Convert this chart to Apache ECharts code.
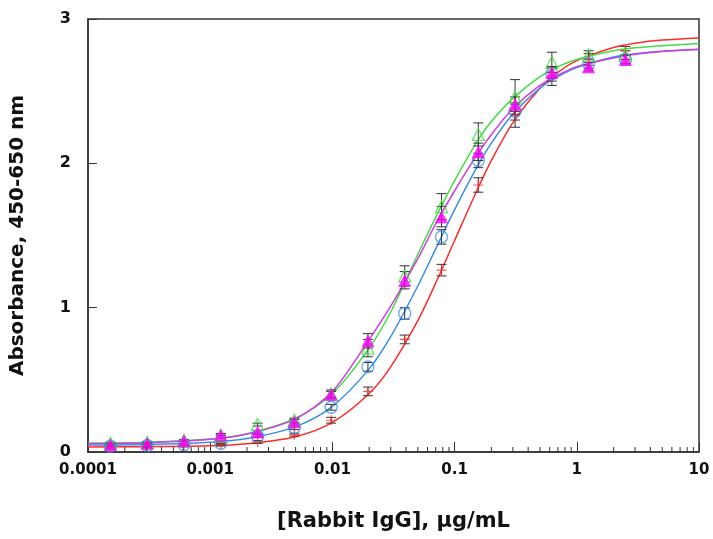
<!DOCTYPE html>
<html>
<head>
<meta charset="utf-8">
<script src="https://cdn.jsdelivr.net/npm/echarts@6/dist/echarts.min.js"></script>
<style>html,body{margin:0;padding:0;background:#fff}#c{width:713px;height:539px}</style>
</head>
<body>
<div id="c"></div>
<script>
// ---- data ----
const conc = [0.000152588, 0.000305176, 0.000610352, 0.00122070, 0.00244141, 0.00488281, 0.00976563, 0.0195313, 0.0390625, 0.078125, 0.15625, 0.3125, 0.625, 1.25, 2.5];

const redY     = [0.03, 0.035, 0.04, 0.05, 0.07, 0.12, 0.22, 0.42, 0.78, 1.26, 1.85, 2.33, 2.60, 2.72, 2.78];
const redSd    = [0.005, 0.005, 0.005, 0.008, 0.01, 0.01, 0.02, 0.03, 0.03, 0.04, 0.05, 0.08, 0.06, 0.04, 0.03];
const blueY    = [0.04, 0.045, 0.05, 0.06, 0.11, 0.17, 0.31, 0.59, 0.96, 1.49, 2.02, 2.36, 2.62, 2.69, 2.72];
const blueSd   = [0.005, 0.005, 0.006, 0.008, 0.01, 0.015, 0.02, 0.03, 0.04, 0.05, 0.05, 0.06, 0.05, 0.03, 0.03];
const greenY   = [0.06, 0.065, 0.08, 0.11, 0.19, 0.22, 0.40, 0.72, 1.22, 1.70, 2.20, 2.46, 2.70, 2.75, 2.75];
const greenSd  = [0.005, 0.005, 0.006, 0.008, 0.01, 0.015, 0.03, 0.06, 0.07, 0.09, 0.08, 0.12, 0.07, 0.03, 0.03];
const magY     = [0.05, 0.06, 0.08, 0.12, 0.14, 0.21, 0.40, 0.77, 1.19, 1.63, 2.08, 2.41, 2.63, 2.67, 2.72];
const magSd    = [0.005, 0.005, 0.006, 0.008, 0.01, 0.015, 0.02, 0.05, 0.06, 0.07, 0.06, 0.05, 0.04, 0.03, 0.03];

// fitted curves
const fitX     = [0.0001, 0.0003, 0.001, 0.002, 0.005, 0.01, 0.02, 0.03, 0.05, 0.07, 0.1, 0.15, 0.2, 0.3, 0.5, 0.7, 1, 2, 3, 5, 10];
const redFit   = [0.035, 0.037, 0.043, 0.057, 0.106, 0.205, 0.405, 0.590, 0.910, 1.170, 1.465, 1.800, 2.020, 2.282, 2.520, 2.630, 2.712, 2.803, 2.832, 2.854, 2.869];
const blueFit  = [0.048, 0.052, 0.068, 0.093, 0.176, 0.316, 0.576, 0.799, 1.150, 1.407, 1.679, 1.964, 2.140, 2.341, 2.521, 2.601, 2.664, 2.736, 2.759, 2.777, 2.789];
const greenFit = [0.062, 0.068, 0.090, 0.125, 0.234, 0.405, 0.720, 0.970, 1.370, 1.625, 1.880, 2.140, 2.290, 2.450, 2.600, 2.670, 2.720, 2.780, 2.800, 2.815, 2.830];
const magFit   = [0.058, 0.064, 0.088, 0.125, 0.230, 0.420, 0.780, 1.010, 1.340, 1.580, 1.810, 2.050, 2.200, 2.380, 2.540, 2.610, 2.670, 2.730, 2.755, 2.775, 2.790];

const xTickLabels = ['0.0001', '0.001', '0.01', '0.1', '1', '10'];
const yTickLabels = ['0', '1', '2', '3'];
const decades = [0.0001, 0.001, 0.01, 0.1, 1];
const minorMult = [2, 3, 4, 5, 6, 7, 8, 9];

// ---- build ----
const pairs = (xs, ys) => xs.map((x, i) => [x, ys[i]]);
const errs = (xs, ys, sd) => xs.map((x, i) => [x, ys[i] - sd[i], ys[i] + sd[i]]);
const minorTicks = [];
decades.forEach(d => minorMult.forEach(m => minorTicks.push([d * m, 0])));

const C = { red: '#ff2a2a', blue: '#3a8ee8', green: '#44dd44', mag: '#d43be6', magMark: '#ff00ff' };
const font = '"DejaVu Sans", Verdana, sans-serif';

function errRender(params, api) {
  const x = api.value(0);
  const p1 = api.coord([x, api.value(1)]);
  const p2 = api.coord([x, api.value(2)]);
  const w = 5;
  const st = { stroke: '#333', lineWidth: 1 };
  return { type: 'group', children: [
    { type: 'line', shape: { x1: p1[0], y1: p1[1], x2: p2[0], y2: p2[1] }, style: st },
    { type: 'line', shape: { x1: p1[0] - w, y1: p1[1], x2: p1[0] + w, y2: p1[1] }, style: st },
    { type: 'line', shape: { x1: p2[0] - w, y1: p2[1], x2: p2[0] + w, y2: p2[1] }, style: st }
  ]};
}
function minorRender(params, api) {
  const p = api.coord([api.value(0), api.value(1)]);
  return { type: 'line', shape: { x1: p[0], y1: p[1], x2: p[0], y2: p[1] - 5 }, style: { stroke: '#333', lineWidth: 1 } };
}
const lineS = (data, color) => ({ type: 'line', data, smooth: 0.3, showSymbol: false, symbol: 'none',
  lineStyle: { color, width: 1.5 }, z: 2, silent: true });
const errS = (data) => ({ type: 'custom', data, renderItem: errRender, encode: { x: 0, y: [1, 2] }, z: 3, silent: true });

const chart = echarts.init(document.getElementById('c'), null, { renderer: 'canvas' });
chart.setOption({
  animation: false,
  backgroundColor: '#fff',
  grid: { left: 87, right: 14, top: 19, bottom: 87, show: true, borderColor: '#333', borderWidth: 1.5, backgroundColor: 'transparent' },
  xAxis: {
    type: 'log', logBase: 10, min: 0.0001, max: 10,
    name: '[Rabbit IgG], \u00b5g/mL', nameLocation: 'middle', nameGap: 59,
    nameTextStyle: { fontFamily: font, fontWeight: 'bold', fontSize: 21, color: '#111' },
    axisLine: { lineStyle: { color: '#333', width: 1.5 } },
    axisTick: { inside: true, length: 10, lineStyle: { color: '#333' } },
    minorTick: { show: false },
    splitLine: { show: false },
    axisLabel: { margin: 11, fontFamily: font, fontWeight: 'bold', fontSize: 15, color: '#111',
      formatter: v => xTickLabels[Math.round(Math.log10(v)) + 4] }
  },
  yAxis: {
    type: 'value', min: 0, max: 3, interval: 1,
    name: 'Absorbance, 450-650 nm', nameLocation: 'middle', nameGap: 60,
    nameTextStyle: { fontFamily: font, fontWeight: 'bold', fontSize: 20, color: '#111' },
    axisLine: { show: true, lineStyle: { color: '#333', width: 1.5 } },
    axisTick: { show: true, inside: true, length: 9, lineStyle: { color: '#333' } },
    splitLine: { show: false },
    axisLabel: { margin: 17, fontFamily: font, fontWeight: 'bold', fontSize: 16, color: '#111',
      formatter: v => yTickLabels[Math.round(v)] }
  },
  series: [
    { type: 'custom', data: minorTicks, renderItem: minorRender, encode: { x: 0, y: 1 }, z: 5, silent: true, clip: false },
    lineS(pairs(fitX, redFit), C.red),
    lineS(pairs(fitX, blueFit), C.blue),
    lineS(pairs(fitX, greenFit), C.green),
    lineS(pairs(fitX, magFit), C.mag),
    errS(errs(conc, redY, redSd)),
    errS(errs(conc, blueY, blueSd)),
    errS(errs(conc, greenY, greenSd)),
    errS(errs(conc, magY, magSd)),
    { type: 'scatter', data: pairs(conc, redY), symbol: 'path://M5,0L5,10M0,5L10,5', symbolSize: 10, z: 4,
      itemStyle: { color: 'rgba(0,0,0,0)', borderColor: C.red, borderWidth: 1.2 } },
    { type: 'scatter', data: pairs(conc, blueY), symbol: 'circle', symbolSize: 12, z: 4,
      itemStyle: { color: 'rgba(255,255,255,0)', borderColor: C.blue, borderWidth: 1.3 } },
    { type: 'scatter', data: pairs(conc, greenY), symbol: 'triangle', symbolSize: 12, z: 4,
      itemStyle: { color: 'rgba(255,255,255,0)', borderColor: C.green, borderWidth: 1.3 } },
    { type: 'scatter', data: pairs(conc, magY), symbol: 'triangle', symbolSize: 13, z: 4,
      itemStyle: { color: C.magMark } }
  ]
});
</script>
</body>
</html>
